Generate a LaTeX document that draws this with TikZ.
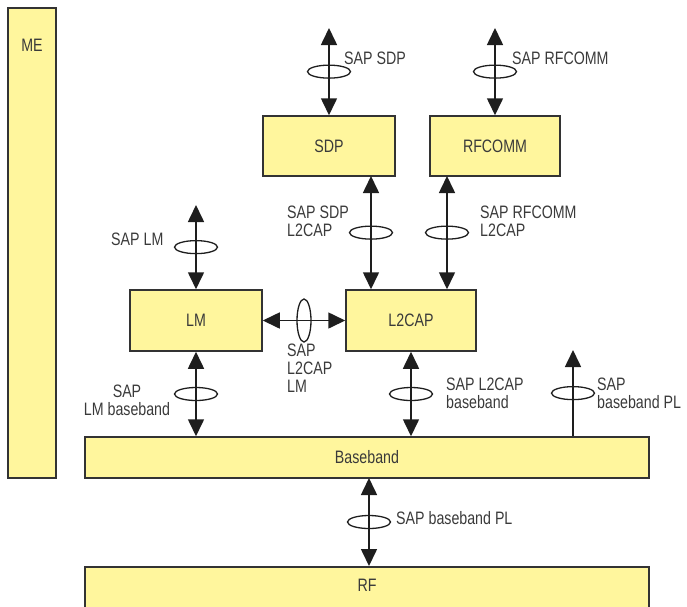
\documentclass[tikz,border=0pt]{standalone}
\usepackage{fontspec}
\setmainfont[FakeStretch=0.79]{Liberation Sans}
\usetikzlibrary{arrows.meta,shapes.geometric}
\definecolor{boxfill}{RGB}{255,246,157}
\definecolor{boxline}{RGB}{51,51,51}
\definecolor{txt}{RGB}{58,58,58}
\tikzset{
  layer/.style={draw=boxline,line width=1.5pt,fill=boxfill,inner sep=0pt,
    text=txt,font=\fontsize{18}{18}\selectfont},
  lbl/.style={inner sep=0pt,text=txt,font=\fontsize{18}{18}\selectfont},
  ring/.style={draw,ellipse,line width=1.3pt,inner sep=0pt,
    minimum width=43pt,minimum height=13pt},
  vring/.style={ring,minimum width=14pt,minimum height=43pt},
  tip/.tip={Triangle[length=17pt,width=16pt]},
  dsap/.style={line width=1.6pt,draw={rgb,255:red,30;green,30;blue,30},tip-tip},
  usap/.style={line width=1.6pt,draw={rgb,255:red,30;green,30;blue,30},-tip}
}
\begin{document}
\begin{tikzpicture}[x=1pt,y=-1pt]
\useasboundingbox (0,0) rectangle (687,606);

\node[layer,minimum width=48pt,minimum height=470pt,
  label={[lbl,anchor=center,yshift=-38pt]north:ME}] (me) at (32,243) {};

\node[layer,minimum width=132pt,minimum height=60pt] (sdp) at (329,146) {SDP};
\node[layer,minimum width=130pt,minimum height=60pt] (rfcomm) at (495,146) {RFCOMM};
\node[layer,minimum width=132pt,minimum height=61pt] (lm) at (196,320.5) {LM};
\node[layer,minimum width=130pt,minimum height=61pt] (l2cap) at (411,320.5) {L2CAP};
\node[layer,minimum width=564pt,minimum height=41pt] (bb) at (367,457.5) {Baseband};
\node[layer,anchor=north,minimum width=564pt,minimum height=50pt,
  label={[lbl,anchor=center,yshift=-19pt]north:RF}] (rf) at (367,566) {};

\coordinate (sdpup) at (329,28);
\coordinate (rfup) at (495,28);
\coordinate (lmup) at (196,205);
\coordinate (sdpdn) at (371,176);
\coordinate (rfdn) at (447,176);
\coordinate (plup) at (573,350);
\coordinate (rfbb) at (369,478);

\draw[dsap] (sdpup) -- node[ring]{} (sdp.north);
\draw[dsap] (rfup) -- node[ring]{} (rfcomm.north);
\draw[dsap] (lmup) -- node[ring]{} (lm.north);
\draw[dsap] (sdpdn) -- node[ring]{} (sdpdn |- l2cap.north);
\draw[dsap] (rfdn) -- node[ring]{} (rfdn |- l2cap.north);
\draw[dsap] (lm.east) -- node[vring]{} (l2cap.west);
\draw[dsap] (lm.south) -- node[ring]{} (lm.south |- bb.north);
\draw[dsap] (l2cap.south) -- node[ring]{} (l2cap.south |- bb.north);
\draw[usap] (plup |- bb.north) -- node[ring]{} (plup);
\draw[dsap] (rfbb) -- node[ring]{} (rfbb |- rf.north);

\node[lbl,anchor=west] (lsdp) at (344,58) {SAP SDP};
\node[lbl,anchor=west] (lrfcomm) at (512,58) {SAP RFCOMM};
\node[lbl,anchor=west,align=left] (lsdpl2) at (287,221) {SAP SDP\\L2CAP};
\node[lbl,anchor=west,align=left] (lrfl2) at (480,221) {SAP RFCOMM\\L2CAP};
\node[lbl,anchor=west] (llm) at (111,239) {SAP LM};
\node[lbl,anchor=west,align=left] (ll2lm) at (287,368) {SAP\\L2CAP\\LM};
\node[lbl,align=center] (llmbb) at (127,400) {SAP\\LM baseband};
\node[lbl,anchor=west,align=left] (ll2bb) at (446,393) {SAP L2CAP\\baseband};
\node[lbl,anchor=west,align=left] (lpl) at (597,393) {SAP\\baseband PL};
\node[lbl,anchor=west] (lbbpl) at (396,518) {SAP baseband PL};
\end{tikzpicture}
\end{document}
